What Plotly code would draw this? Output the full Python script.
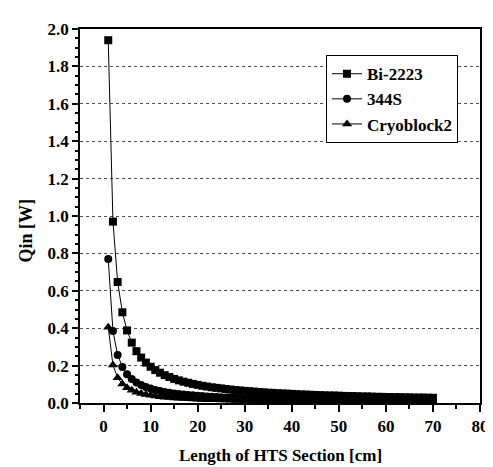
import plotly.graph_objects as go

length_cm = list(range(1, 71))

bi2223 = [1.940, 0.970, 0.647, 0.485, 0.388, 0.323, 0.277, 0.243, 0.216, 0.194,
          0.176, 0.162, 0.149, 0.139, 0.129, 0.121, 0.114, 0.108, 0.102, 0.097,
          0.092, 0.088, 0.084, 0.081, 0.078, 0.075, 0.072, 0.069, 0.067, 0.065,
          0.063, 0.061, 0.059, 0.057, 0.055, 0.054, 0.052, 0.051, 0.050, 0.049,
          0.047, 0.046, 0.045, 0.044, 0.043, 0.042, 0.041, 0.040, 0.040, 0.039,
          0.038, 0.037, 0.037, 0.036, 0.035, 0.035, 0.034, 0.033, 0.033, 0.032,
          0.032, 0.031, 0.031, 0.030, 0.030, 0.029, 0.029, 0.029, 0.028, 0.028]

s344 = [0.770, 0.385, 0.257, 0.193, 0.154, 0.128, 0.110, 0.096, 0.086, 0.077,
        0.070, 0.064, 0.059, 0.055, 0.051, 0.048, 0.045, 0.043, 0.041, 0.039,
        0.037, 0.035, 0.033, 0.032, 0.031, 0.030, 0.029, 0.028, 0.027, 0.026,
        0.025, 0.024, 0.023, 0.023, 0.022, 0.021, 0.021, 0.020, 0.020, 0.019,
        0.019, 0.018, 0.018, 0.018, 0.017, 0.017, 0.016, 0.016, 0.016, 0.015,
        0.015, 0.015, 0.015, 0.014, 0.014, 0.014, 0.014, 0.013, 0.013, 0.013,
        0.013, 0.012, 0.012, 0.012, 0.012, 0.012, 0.011, 0.011, 0.011, 0.011]

cryoblock2 = [0.405, 0.203, 0.135, 0.101, 0.081, 0.068, 0.058, 0.051, 0.045, 0.041,
              0.037, 0.034, 0.031, 0.029, 0.027, 0.025, 0.024, 0.023, 0.021, 0.020,
              0.019, 0.018, 0.018, 0.017, 0.016, 0.016, 0.015, 0.014, 0.014, 0.014,
              0.013, 0.013, 0.012, 0.012, 0.012, 0.011, 0.011, 0.011, 0.010, 0.010,
              0.010, 0.010, 0.009, 0.009, 0.009, 0.009, 0.009, 0.008, 0.008, 0.008,
              0.008, 0.008, 0.008, 0.008, 0.007, 0.007, 0.007, 0.007, 0.007, 0.007,
              0.007, 0.007, 0.006, 0.006, 0.006, 0.006, 0.006, 0.006, 0.006, 0.006]

series = [("Bi-2223", bi2223, "square", 8),
          ("344S", s344, "circle", 8),
          ("Cryoblock2", cryoblock2, "triangle-up", 9)]

FONT = "Liberation Serif, Times New Roman, serif"

fig = go.Figure()
for name, vals, sym, sz in series:
    fig.add_trace(go.Scatter(
        x=length_cm, y=vals, name=name, mode="lines+markers",
        line=dict(color="black", width=1),
        marker=dict(symbol=sym, size=sz, color="black"),
    ))

axis_common = dict(
    showline=True, linecolor="black", linewidth=1.5, mirror=True,
    ticks="outside", tickcolor="black", tickwidth=1.5,
    tickfont=dict(family=FONT, size=17, color="black", weight="bold"),
    zeroline=False,
)

fig.update_xaxes(
    range=[-5, 80], tickmode="linear", tick0=0, dtick=10, ticklen=7,
    showgrid=False,
    minor=dict(ticks="outside", dtick=5, tick0=0, ticklen=4, tickcolor="black", showgrid=False),
    **axis_common,
)
fig.update_yaxes(
    range=[0, 2.0], tickmode="linear", tick0=0, dtick=0.2, ticklen=6,
    tickformat=".1f",
    showgrid=True, gridcolor="#555555", gridwidth=1, griddash="dot",
    minor=dict(ticks="outside", dtick=0.05, tick0=0, ticklen=3, tickcolor="black", showgrid=False),
    **axis_common,
)

fig.update_layout(
    width=493, height=467,
    margin=dict(l=72, r=17, t=20, b=72),
    plot_bgcolor="white", paper_bgcolor="white",
    showlegend=True,
    legend=dict(
        x=0.615, y=0.93, xanchor="left", yanchor="top",
        bgcolor="white", bordercolor="black", borderwidth=1,
        font=dict(family=FONT, size=17, color="black", weight="bold"),
        tracegroupgap=0,
    ),
    annotations=[
        dict(text="Qin [W]", xref="paper", yref="paper", x=-0.135, y=0.461,
             textangle=-90, showarrow=False, xanchor="center", yanchor="middle",
             font=dict(family=FONT, size=18, color="black", weight="bold")),
        dict(text="Length of HTS Section [cm]", xref="paper", yref="paper",
             x=0.5, y=-0.14, showarrow=False, xanchor="center", yanchor="middle",
             font=dict(family=FONT, size=17, color="black", weight="bold")),
    ],
)

fig.write_html("out.html")
